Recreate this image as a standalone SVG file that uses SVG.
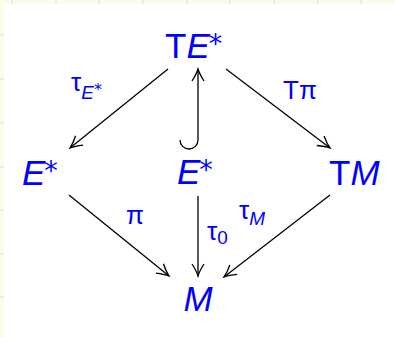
<svg xmlns="http://www.w3.org/2000/svg" width="395" height="338" viewBox="0 0 395 338">
<style>
.node{font-family:"Liberation Sans","DejaVu Sans",sans-serif;font-size:35px;fill:#0000ff}
.lbl{font-family:"Liberation Sans","DejaVu Sans",sans-serif;font-size:26px;fill:#0000ff}
.it{font-style:italic}
.st{font-family:"DejaVu Sans",sans-serif;font-style:normal}
.edge{stroke:#000;stroke-width:1.3;fill:none}
.grid{stroke:#dcdcd2;stroke-width:1}
</style>
<defs>
<marker id="arr" viewBox="-14 -8 16 16" markerWidth="16" markerHeight="16" refX="0" refY="0" orient="auto" markerUnits="userSpaceOnUse">
<path d="M -12 -6 Q -5 -1.5 0 0 Q -5 1.5 -12 6" fill="none" stroke="#000" stroke-width="1.3"/>
</marker>
</defs>
<rect x="0" y="0" width="395" height="338" fill="#fdfcec"/>
<g id="grid">
<path class="grid" d="M12 0V4M56 0V4M99 0V4M143 0V4M187 0V4M230 0V4M274 0V4M318 0V4M361 0V4M0 35H4M0 79H4M0 123H4M0 167H4M0 210H4M0 254H4M0 297H4"/>
</g>
<rect x="4" y="4" width="391" height="334" fill="#ffffff"/>
<g id="connectors">
<line class="edge" x1="168" y1="69" x2="70" y2="148" marker-end="url(#arr)"/>
<line class="edge" x1="226" y1="69" x2="330" y2="148" marker-end="url(#arr)"/>
<path class="edge" d="M180 140 A9 9 0 0 0 198 140 V69" marker-end="url(#arr)"/>
<line class="edge" x1="69" y1="195" x2="169" y2="276" marker-end="url(#arr)"/>
<line class="edge" x1="198" y1="196" x2="198" y2="276" marker-end="url(#arr)"/>
<line class="edge" x1="330" y1="195" x2="224" y2="277" marker-end="url(#arr)"/>
</g>
<g id="TEstar"><text class="node" x="165" y="58">T<tspan class="it">E</tspan><tspan class="st" font-size="27" dx="-1" dy="-5">*</tspan></text></g>
<g id="Estar-left"><text class="node" x="22" y="185"><tspan class="it">E</tspan><tspan class="st" font-size="27" dx="-1" dy="-5">*</tspan></text></g>
<g id="Estar-mid"><text class="node" x="177" y="184"><tspan class="it">E</tspan><tspan class="st" font-size="27" dx="-1" dy="-5">*</tspan></text></g>
<g id="TM"><text class="node" x="329" y="185">T<tspan class="it">M</tspan></text></g>
<g id="M"><text class="node it" x="198" y="311" text-anchor="middle">M</text></g>
<g id="labels">
<text class="lbl" x="71" y="91">τ<tspan class="it" font-size="19" dy="8">E</tspan><tspan class="st" font-size="16" dy="-4">*</tspan></text>
<text class="lbl" x="283" y="99">Tπ</text>
<text class="lbl" x="126" y="224">π</text>
<text class="lbl" x="239" y="219">τ<tspan class="it" font-size="19" dy="6">M</tspan></text>
<text class="lbl" x="207" y="240">τ<tspan font-size="19" dy="4">0</tspan></text>
</g>
</svg>
